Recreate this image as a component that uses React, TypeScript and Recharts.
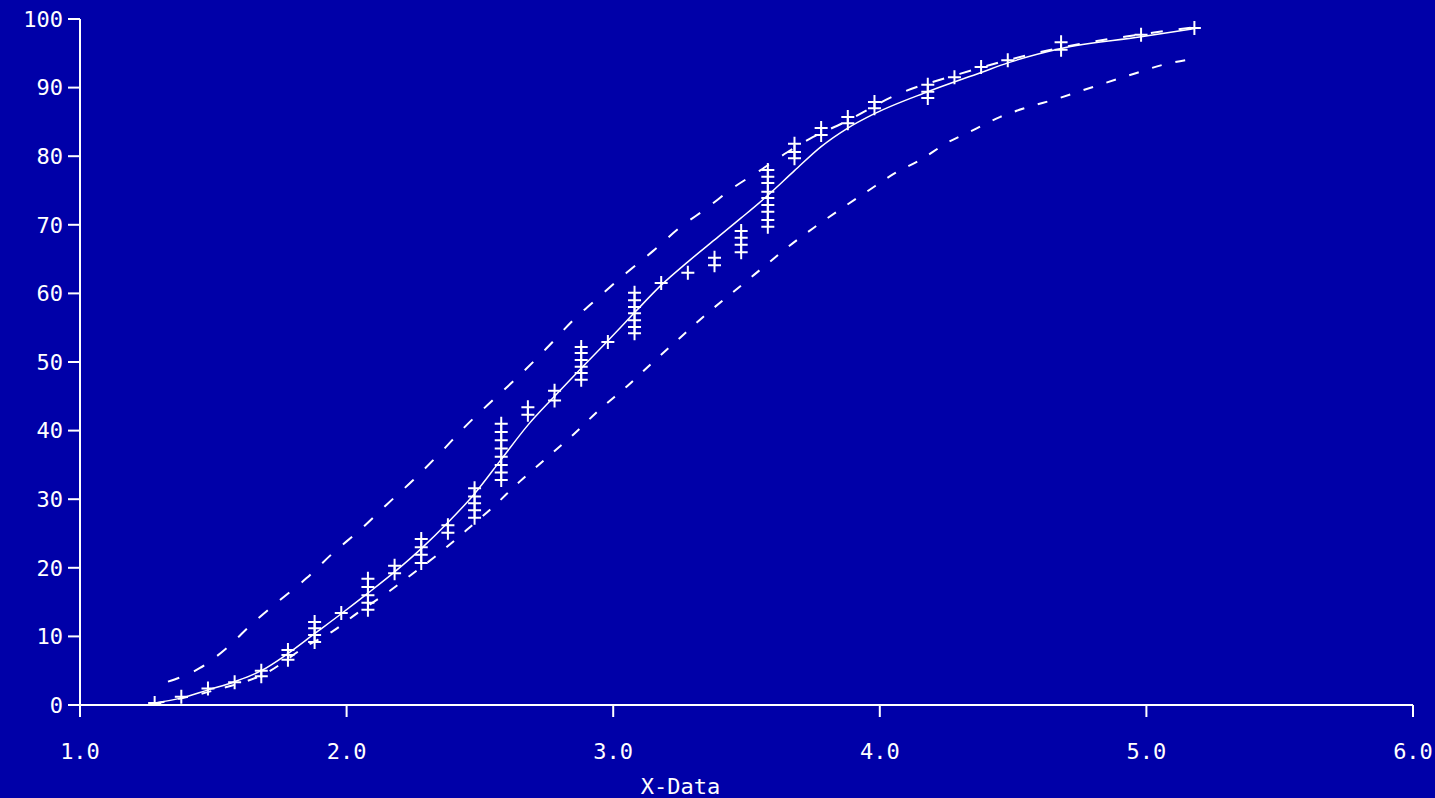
import React from 'react';
import { ComposedChart, Line, Scatter, XAxis, YAxis } from 'recharts';

// observed replicate columns: x position and the y readings stacked at it
const obsX = [1.28, 1.38, 1.48, 1.58, 1.68, 1.78, 1.88, 1.98, 2.08, 2.18, 2.28, 2.38, 2.48, 2.58, 2.68, 2.78, 2.88, 2.98, 3.08, 3.18, 3.28, 3.38, 3.48, 3.58, 3.68, 3.78, 3.88, 3.98, 4.18, 4.28, 4.38, 4.48, 4.68, 4.98, 5.18];
const obsY = [
  [0.3], [1.2], [2.4], [3.3], [4.2, 5.0], [6.6, 7.3, 8.0], [9.2, 10.2, 11.2, 12.1], [13.4],
  [13.9, 14.9, 16.0, 17.2, 18.4], [19.2, 20.3], [20.7, 21.9, 23.0, 24.2], [25.1, 26.2],
  [27.3, 28.4, 29.4, 30.4, 31.6], [32.8, 33.9, 35.0, 36.2, 37.4, 38.6, 39.8, 41.0], [42.3, 43.4], [44.4, 45.8],
  [47.4, 48.4, 49.3, 50.3, 51.3, 52.2], [52.9], [54.2, 55.1, 56.1, 57.1, 58.0, 59.0, 60.1], [61.5], [63.0],
  [64.1, 65.2], [66.0, 67.1, 68.1, 69.1], [69.7, 70.7, 71.9, 72.9, 73.9, 74.8, 76.1, 77.0, 78.0],
  [79.7, 80.6, 81.8], [83.1, 84.1], [84.8, 85.7], [87.0, 87.9], [88.5, 89.4, 90.4], [91.5], [93.0], [94.0],
  [95.5, 96.6], [97.7], [98.7],
];

// fitted curve
const fitX = [1.28, 1.38, 1.48, 1.58, 1.68, 1.78, 1.88, 1.98, 2.08, 2.18, 2.28, 2.38, 2.48, 2.58, 2.68, 2.78, 2.88, 2.98, 3.08, 3.18, 3.28, 3.38, 3.48, 3.58, 3.68, 3.78, 3.88, 3.98, 4.18, 4.38, 4.48, 4.68, 4.98, 5.18];
const fitY = [0.3, 1.0, 2.2, 3.4, 5.0, 7.5, 10.4, 13.3, 16.3, 19.4, 22.8, 26.6, 30.8, 35.8, 40.8, 45.0, 49.1, 53.1, 57.2, 61.2, 64.6, 67.8, 71.0, 74.3, 77.9, 81.4, 84.1, 86.2, 89.4, 92.2, 93.6, 95.7, 97.4, 98.6];

// upper confidence band
const upperX = [1.33, 1.45, 1.55, 1.65, 1.75, 1.85, 1.95, 2.05, 2.15, 2.25, 2.35, 2.45, 2.55, 2.65, 2.75, 2.85, 2.95, 3.05, 3.15, 3.25, 3.35, 3.45, 3.55, 3.65, 3.75, 3.86, 4.06, 4.3, 4.5, 4.7, 4.95, 5.18];
const upperY = [3.4, 5.4, 8.3, 12.0, 15.3, 18.5, 22.2, 25.5, 29.2, 32.8, 36.7, 40.8, 44.5, 48.1, 52.0, 56.1, 59.6, 63.0, 66.2, 69.6, 72.4, 75.4, 77.9, 80.5, 82.8, 84.8, 88.9, 92.0, 94.2, 96.0, 97.6, 98.8];

// lower confidence band
const lowerX = [1.28, 1.5, 1.7, 1.85, 1.95, 2.04, 2.15, 2.25, 2.35, 2.45, 2.55, 2.65, 2.75, 2.85, 2.95, 3.05, 3.15, 3.25, 3.35, 3.45, 3.55, 3.65, 3.75, 3.85, 3.95, 4.06, 4.15, 4.25, 4.35, 4.45, 4.56, 4.65, 4.8, 4.96, 5.06, 5.18];
const lowerY = [0.2, 2.1, 4.7, 8.6, 10.8, 13.4, 16.3, 19.2, 22.2, 25.5, 28.9, 32.6, 36.0, 39.4, 43.1, 46.4, 50.0, 53.5, 57.0, 60.2, 63.4, 66.6, 69.5, 72.2, 74.8, 77.6, 79.4, 81.9, 83.8, 85.7, 87.2, 88.2, 90.1, 92.1, 93.3, 94.2];

const xTicks = [1, 2, 3, 4, 5, 6];
const yTicks = [0, 10, 20, 30, 40, 50, 60, 70, 80, 90, 100];

const points = obsX.flatMap((x, i) => obsY[i].map((y) => ({ x, y })));
const fitData = fitX.map((x, i) => ({ x, y: fitY[i] }));
const upperData = upperX.map((x, i) => ({ x, y: upperY[i] }));
const lowerData = lowerX.map((x, i) => ({ x, y: lowerY[i] }));

const BG = '#0000a8';
const INK = '#ffffff';
const font = { fontFamily: '"DejaVu Sans Mono", monospace', fontSize: 22, fill: INK };

function PlusMarker(props: any) {
  const { cx, cy } = props;
  if (cx == null || cy == null) return null;
  return <path d={`M${cx - 6.5},${cy}h13M${cx},${cy - 7}v14`} stroke={INK} strokeWidth={2} fill="none" />;
}

export default function App() {
  return (
    <div style={{ position: 'absolute', left: 0, top: 0, width: 1435, height: 798, background: BG }}>
      <ComposedChart width={1435} height={798} margin={{ top: 19, right: 22, bottom: 0, left: 0 }}>
        <XAxis
          type="number"
          dataKey="x"
          domain={[1, 6]}
          ticks={xTicks}
          allowDataOverflow
          tickFormatter={(v) => Number(v).toFixed(1)}
          height={93}
          tickSize={12}
          tickMargin={26}
          axisLine={{ stroke: INK, strokeWidth: 2 }}
          tickLine={{ stroke: INK, strokeWidth: 2 }}
          tick={font}
          label={{
            content: (p: any) => (
              <text x={p.viewBox.x + p.viewBox.width / 2 - 66} y={p.viewBox.y + p.viewBox.height - 4} textAnchor="middle" {...font}>
                X-Data
              </text>
            ),
          }}
        />
        <YAxis
          type="number"
          domain={[0, 100]}
          ticks={yTicks}
          allowDataOverflow
          width={80}
          tickSize={12}
          tickMargin={5}
          axisLine={{ stroke: INK, strokeWidth: 2 }}
          tickLine={{ stroke: INK, strokeWidth: 2 }}
          tick={font}
        />
        <Line data={upperData} dataKey="y" type="monotone" stroke={INK} strokeWidth={2} strokeDasharray="12 16" dot={false} isAnimationActive={false} />
        <Line data={lowerData} dataKey="y" type="monotone" stroke={INK} strokeWidth={2} strokeDasharray="10 14" dot={false} isAnimationActive={false} />
        <Line data={fitData} dataKey="y" type="monotone" stroke={INK} strokeWidth={1.5} dot={false} isAnimationActive={false} />
        <Scatter data={points} dataKey="y" shape={<PlusMarker />} isAnimationActive={false} />
      </ComposedChart>
    </div>
  );
}
